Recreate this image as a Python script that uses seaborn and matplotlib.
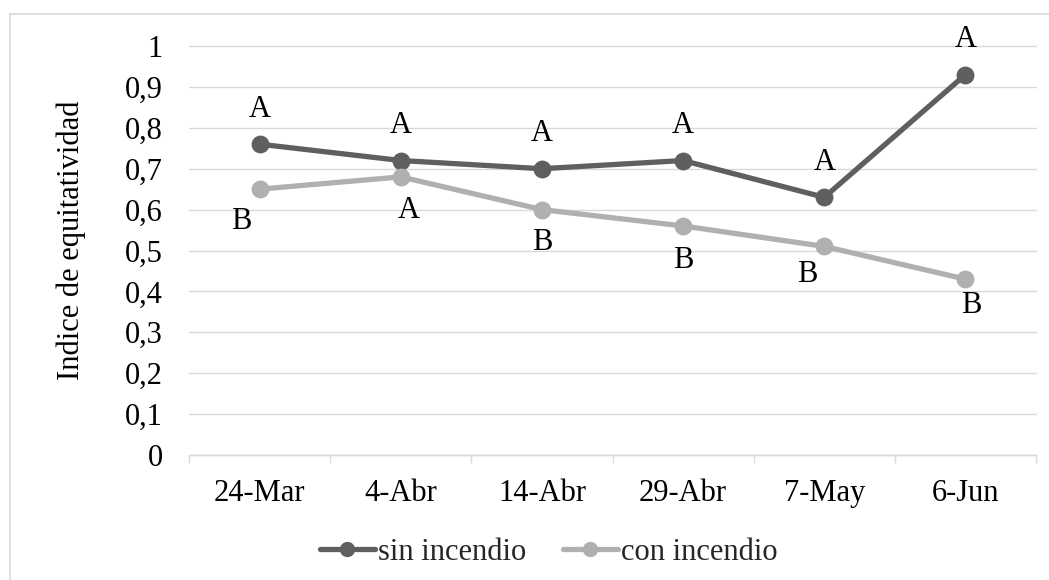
import matplotlib
matplotlib.use("Agg")
import matplotlib.pyplot as plt
from matplotlib.lines import Line2D
from matplotlib.ticker import FixedLocator, FuncFormatter
import seaborn as sns
import pandas as pd

# Sampling dates and equitability index per treatment
fechas = ["24-Mar", "4-Abr", "14-Abr", "29-Abr", "7-May", "6-Jun"]
sin_incendio = [0.76, 0.72, 0.70, 0.72, 0.63, 0.93]
con_incendio = [0.65, 0.68, 0.60, 0.56, 0.51, 0.43]
letras_sin = ["A", "A", "A", "A", "A", "A"]
letras_con = ["B", "A", "B", "B", "B", "B"]
series = ["sin incendio", "con incendio"]

colores = {"sin incendio": "#5f5f5f", "con incendio": "#b0b0b0"}

df = pd.DataFrame({
    "fecha": fechas * 2,
    "indice": sin_incendio + con_incendio,
    "serie": [series[0]] * len(fechas) + [series[1]] * len(fechas),
})

sns.set_theme(style="white")
plt.rcParams["font.family"] = ["Liberation Serif", "DejaVu Serif"]
FS = 22

fig = plt.figure(figsize=(10.49, 5.8), dpi=100)
ax = fig.add_axes([189 / 1049, 1 - 455 / 580, 847 / 1049, 409 / 580])

sns.pointplot(
    data=df, x="fecha", y="indice", hue="serie",
    order=fechas, hue_order=series, palette=colores,
    markers="o", linestyles="-", errorbar=None,
    markersize=10, linewidth=3.8, ax=ax,
)
if ax.get_legend() is not None:
    ax.get_legend().remove()

ax.set_xlim(-0.5, len(fechas) - 0.5)
ax.set_ylim(0, 1)

# Gridlines and axis styling
ax.yaxis.set_major_locator(FixedLocator([i / 10 for i in range(11)]))
ax.yaxis.set_major_formatter(FuncFormatter(
    lambda v, _: "0" if abs(v) < 1e-9 else ("1" if abs(v - 1) < 1e-9 else f"{v:.1f}".replace(".", ","))))
ax.grid(axis="y", color="#d9d9d9", linewidth=1.0, clip_on=False)
ax.grid(axis="x", visible=False)
ax.set_axisbelow(True)
for s in ["top", "right", "left"]:
    ax.spines[s].set_visible(False)
ax.spines["bottom"].set_color("#d9d9d9")
ax.spines["bottom"].set_linewidth(1.0)

ax.xaxis.set_minor_locator(FixedLocator([i - 0.5 for i in range(len(fechas) + 1)]))
ax.tick_params(axis="x", which="minor", length=6, width=1.0, color="#d9d9d9", direction="out", bottom=True)
ax.tick_params(axis="x", which="major", length=0, pad=17, labelsize=FS, labelcolor="black")
ax.tick_params(axis="y", which="major", length=0, pad=19, labelsize=FS, labelcolor="black")

ax.set_xlabel("")
ax.set_ylabel("Indice de equitatividad", fontsize=FS, color="black", va="center")
ax.yaxis.set_label_coords((71 - 189) / 847, (455 - 240) / 409)

# Significance letters (offsets in points)
off_sin = [(0, 25)] * len(fechas)
off_con = [(-13, -23), (6, -24), (0, -24), (0, -25), (-12, -20), (4, -19)]
for i, (v, l, o) in enumerate(zip(sin_incendio, letras_sin, off_sin)):
    ax.annotate(l, (i, v), xytext=o, textcoords="offset points",
                ha="center", va="center", fontsize=FS, color="black")
for i, (v, l, o) in enumerate(zip(con_incendio, letras_con, off_con)):
    ax.annotate(l, (i, v), xytext=o, textcoords="offset points",
                ha="center", va="center", fontsize=FS, color="black")

# Legend below the plot
handles = [Line2D([0], [0], color=colores[s], linewidth=3.8, marker="o", markersize=10) for s in series]
fig.legend(handles, series, loc="center", bbox_to_anchor=(0.523, 1 - 552 / 580),
           ncol=2, frameon=False, fontsize=FS, handlelength=1.8, handletextpad=0.1,
           columnspacing=1.2, borderpad=0)

# Chart frame
fig.add_artist(Line2D([9.5 / 1049, 9.5 / 1049], [0, 1 - 13.5 / 580], color="#d9d9d9", linewidth=1.2,
                      transform=fig.transFigure))
fig.add_artist(Line2D([9.5 / 1049, 1], [1 - 13.5 / 580, 1 - 13.5 / 580], color="#d9d9d9", linewidth=1.2,
                      transform=fig.transFigure))

fig.savefig("out.png", dpi=100)
